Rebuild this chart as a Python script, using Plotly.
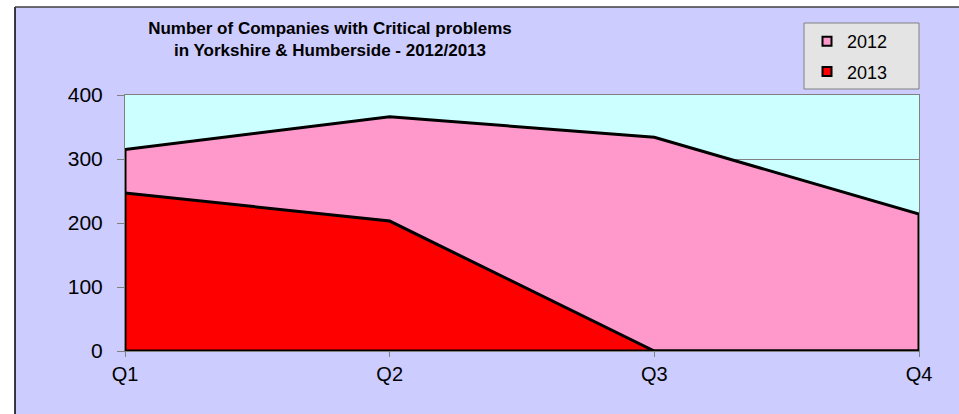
import plotly.graph_objects as go

quarters = ["Q1", "Q2", "Q3", "Q4"]
series_names = ["2012", "2013"]
values_2012 = [315, 366, 334, 214]
values_2013 = [247, 203, 0, 0]
y_ticks = [0, 100, 200, 300, 400]

W, H = 959, 414
L, R, T, B = 125, 919, 95, 351


def pxx(px):
    return (px - L) / (R - L)


def pxy(py):
    return (B - py) / (B - T)


LAV = "#CCCCFF"
CYAN = "#CCFFFF"
PINK = "#FF99CC"
RED = "#FF0000"

fig = go.Figure()

for name, vals, col in [("2012", values_2012, PINK), ("2013", values_2013, RED)]:
    xs = quarters + [quarters[-1], quarters[0], quarters[0]]
    ys = vals + [0, 0, vals[0]]
    fig.add_trace(go.Scatter(
        x=xs, y=ys, mode="lines", fill="toself", fillcolor=col,
        line=dict(color="black", width=3), showlegend=False, hoverinfo="skip"))

for i, (name, col) in enumerate([("2012", PINK), ("2013", RED)]):
    fig.add_trace(go.Scatter(
        x=[None], y=[None], mode="markers", name=name, legendgroup=name,
        marker=dict(symbol="square", size=9, color=col, line=dict(color="black", width=2))))

shapes = [
    # white margins outside chart frame
    dict(type="rect", xref="paper", yref="paper", x0=pxx(-5), x1=pxx(15), y0=pxy(430), y1=pxy(-5),
         fillcolor="white", line=dict(width=0), layer="below"),
    dict(type="rect", xref="paper", yref="paper", x0=pxx(-5), x1=pxx(970), y0=pxy(7), y1=pxy(-5),
         fillcolor="white", line=dict(width=0), layer="below"),
    # chart frame lines
    dict(type="line", xref="paper", yref="paper", x0=pxx(15), x1=pxx(15), y0=pxy(7), y1=pxy(430),
         line=dict(color="black", width=1.5)),
    dict(type="line", xref="paper", yref="paper", x0=pxx(15), x1=pxx(970), y0=pxy(7), y1=pxy(7),
         line=dict(color="#404040", width=1.5)),
    # legend box
    dict(type="rect", xref="paper", yref="paper", x0=pxx(804), x1=pxx(919), y0=pxy(89), y1=pxy(23),
         fillcolor="#E4E4E4", line=dict(color="#808080", width=1)),
]

fig.update_layout(
    width=W, height=H,
    margin=dict(l=L, r=W - R, t=T, b=H - B, pad=0),
    paper_bgcolor=LAV,
    plot_bgcolor=CYAN,
    font=dict(family="Arial, Liberation Sans, sans-serif", color="black"),
    title=dict(
        text="<b>Number of Companies with Critical problems<br>in Yorkshire &amp; Humberside - 2012/2013</b>",
        x=pxx(330), xref="paper", xanchor="center",
        y=1 - 34 / H, yref="container", yanchor="top",
        font=dict(size=17, color="black")),
    showlegend=True,
    legend=dict(
        x=pxx(807), y=pxy(23), xanchor="left", yanchor="top",
        bgcolor="rgba(0,0,0,0)", borderwidth=0,
        traceorder="grouped", tracegroupgap=4,
        font=dict(size=18, color="black")),
    shapes=shapes,
    xaxis=dict(
        type="category", categoryorder="array", categoryarray=quarters,
        range=[0, 3], showgrid=False, zeroline=False,
        showline=True, linecolor="#808080", linewidth=1, mirror=True,
        ticks="outside", ticklen=5, tickcolor="#808080",
        tickfont=dict(size=20), ticklabelstandoff=0),
    yaxis=dict(
        range=[0, 400], tickvals=y_ticks, showgrid=True,
        gridcolor="#808080", gridwidth=1, zeroline=False,
        showline=True, linecolor="#808080", linewidth=1, mirror=True,
        ticks="outside", ticklen=7, tickcolor="#808080",
        tickfont=dict(size=21), ticklabelstandoff=10),
)

fig.write_html("out.html", config={"displayModeBar": False},
               post_script="document.body.style.margin='0px';")
